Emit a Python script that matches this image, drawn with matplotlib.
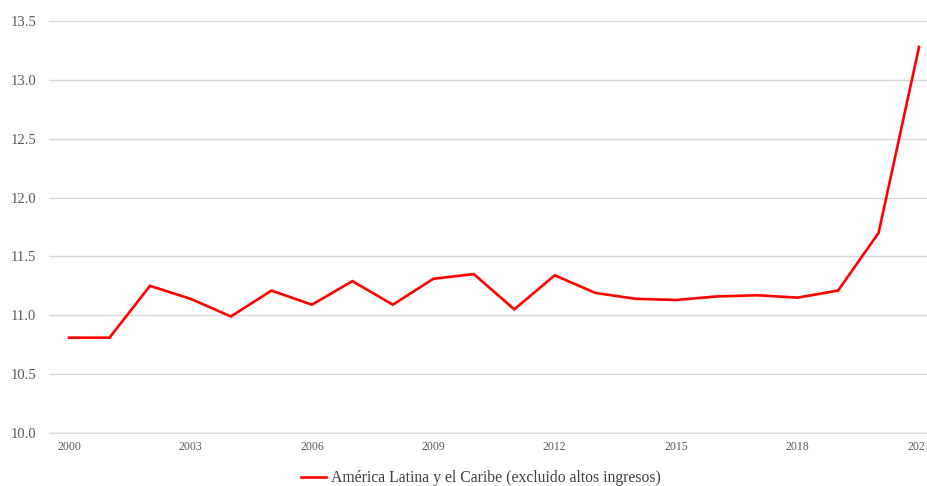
import matplotlib

matplotlib.use("Agg")

import matplotlib.pyplot as plt
from matplotlib.ticker import FixedLocator

# Annual series, 2000-2021
years = list(range(2000, 2022))
values = [
    10.81, 10.81, 11.25, 11.14, 10.99, 11.21, 11.09, 11.29, 11.09, 11.31, 11.35,
    11.05, 11.34, 11.19, 11.14, 11.13, 11.16, 11.17, 11.15, 11.21, 11.70, 13.28,
]
series_label = "América Latina y el Caribe (excluido altos ingresos)"
x_tick_years = [2000, 2003, 2006, 2009, 2012, 2015, 2018, 2021]
y_ticks = [10.0, 10.5, 11.0, 11.5, 12.0, 12.5, 13.0, 13.5]

LINE_RED = "#FF0000"
GRID_GREY = "#D9D9D9"
TICK_GREY = "#595959"

plt.rcParams["font.family"] = ["Liberation Serif", "DejaVu Serif"]

fig = plt.figure(figsize=(9.27, 4.86), dpi=100)
# plot area runs a little past the right edge, as in the source layout
ax = fig.add_axes([48.8 / 927, 53 / 486, 890.5 / 927, 412 / 486])

(line,) = ax.plot(years, values, color=LINE_RED, linewidth=1.9, solid_joinstyle="miter",
                  label=series_label, zorder=3)

ax.set_xlim(1999.5, 2021.5)
ax.set_ylim(10.0, 13.5)
ax.xaxis.set_major_locator(FixedLocator(x_tick_years))
ax.yaxis.set_major_locator(FixedLocator(y_ticks))
ax.set_yticklabels([f"{v:.1f}" for v in y_ticks])

ax.grid(axis="y", color=GRID_GREY, linewidth=1.0, zorder=0)
for side in ["top", "right", "left"]:
    ax.spines[side].set_visible(False)
ax.spines["bottom"].set_color(GRID_GREY)
ax.spines["bottom"].set_linewidth(1.0)

ax.tick_params(axis="y", length=0, pad=9, labelsize=10.5, labelcolor=TICK_GREY)
ax.tick_params(axis="x", length=0, pad=6, labelsize=8.5, labelcolor=TICK_GREY)

fig.legend(handles=[line], loc="center", bbox_to_anchor=(481 / 927, 8 / 486),
           frameon=False, fontsize=11.3, handlelength=1.6, handletextpad=0.35,
           labelcolor="#404040")

fig.savefig("out.png", dpi=100, facecolor="white")
